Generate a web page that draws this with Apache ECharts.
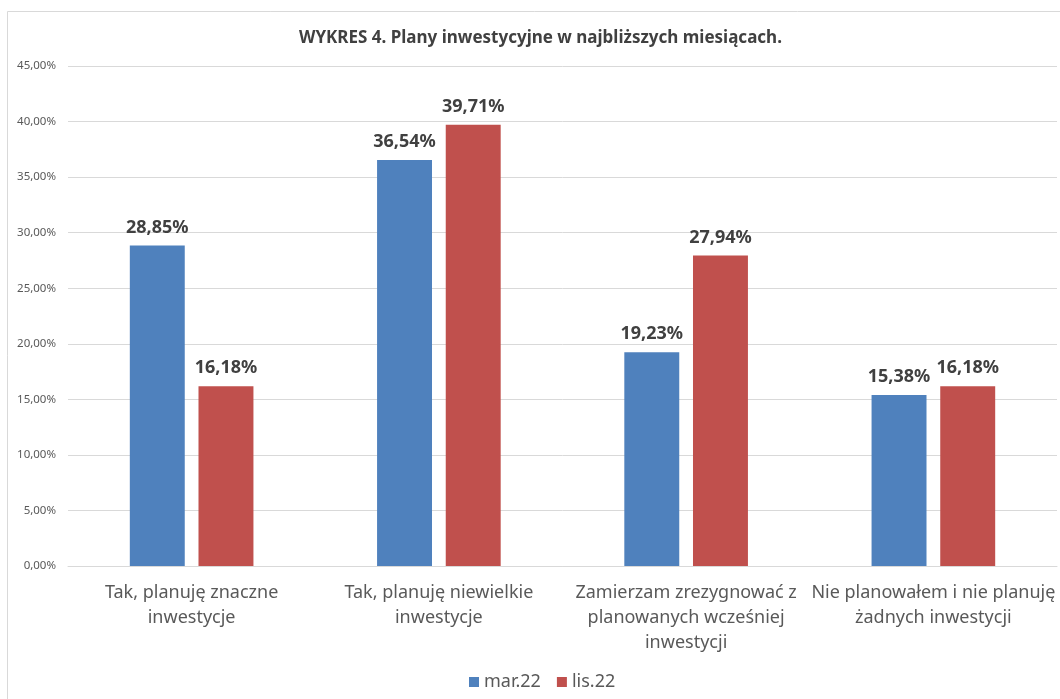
<!DOCTYPE html>
<html><head><meta charset="utf-8">
<script src="https://cdn.jsdelivr.net/npm/echarts@6/dist/echarts.min.js"></script>
<style>html,body{margin:0;padding:0;background:#fff}#c{width:1060px;height:699px}</style>
</head><body><div id="c"></div>
<script>
const titleText = 'WYKRES 4. Plany inwestycyjne w najbliższych miesiącach.';
const categories = [
  'Tak, planuję znaczne\ninwestycje',
  'Tak, planuję niewielkie\ninwestycje',
  'Zamierzam zrezygnować z\nplanowanych wcześniej\ninwestycji',
  'Nie planowałem i nie planuję\nżadnych inwestycji'
];
const seriesNames = ['mar.22', 'lis.22'];
const marValues = [28.85, 36.54, 19.23, 15.38];
const lisValues = [16.18, 39.71, 27.94, 16.18];
const colors = ['#4F81BD', '#C0504D'];
const yMin = 0, yMax = 45, yStep = 5;

const fmt = v => v.toFixed(2).replace('.', ',') + '%';
const font = '"Noto Sans", "DejaVu Sans", sans-serif';

const chart = echarts.init(document.getElementById('c'), null, {renderer: 'canvas'});
const labelCfg = {
  show: true, position: 'top', distance: 9,
  formatter: p => fmt(p.value),
  color: '#404040', fontWeight: 'bold', fontSize: 18, fontFamily: font
};
chart.setOption({
  animation: false,
  backgroundColor: '#fff',
  graphic: [{
    type: 'rect', shape: {x: 7.5, y: 11.5, width: 1100, height: 800},
    style: {fill: 'none', stroke: '#d9d9d9', lineWidth: 1}, silent: true
  }],
  title: {
    text: titleText, left: 294, top: 25,
    textStyle: {fontSize: 17, fontWeight: 'bold', color: '#404040', fontFamily: font}
  },
  legend: {
    data: seriesNames, top: 668, left: 464,
    icon: 'rect', itemWidth: 10, itemHeight: 10, itemGap: 16,
    textStyle: {fontSize: 18, color: '#595959', fontFamily: font}
  },
  grid: {left: 68, right: 3, top: 66, bottom: 133, containLabel: false},
  xAxis: {
    type: 'category', data: categories,
    axisLine: {lineStyle: {color: '#d9d9d9', width: 1}},
    axisTick: {show: false},
    axisLabel: {
      interval: 0, margin: 14, fontSize: 18, lineHeight: 25,
      color: '#595959', fontFamily: font
    }
  },
  yAxis: {
    type: 'value', min: yMin, max: yMax, interval: yStep,
    axisLine: {show: false}, axisTick: {show: false},
    splitLine: {lineStyle: {color: '#d9d9d9', width: 1}},
    axisLabel: {
      formatter: v => fmt(v), fontSize: 11.5, color: '#595959',
      fontFamily: font, margin: 12
    }
  },
  series: [
    {name: seriesNames[0], type: 'bar', data: marValues, barGap: '25%', barCategoryGap: '50%',
     itemStyle: {color: colors[0]}, label: labelCfg},
    {name: seriesNames[1], type: 'bar', data: lisValues, barGap: '25%', barCategoryGap: '50%',
     itemStyle: {color: colors[1]}, label: labelCfg}
  ]
});
</script>
</body></html>
